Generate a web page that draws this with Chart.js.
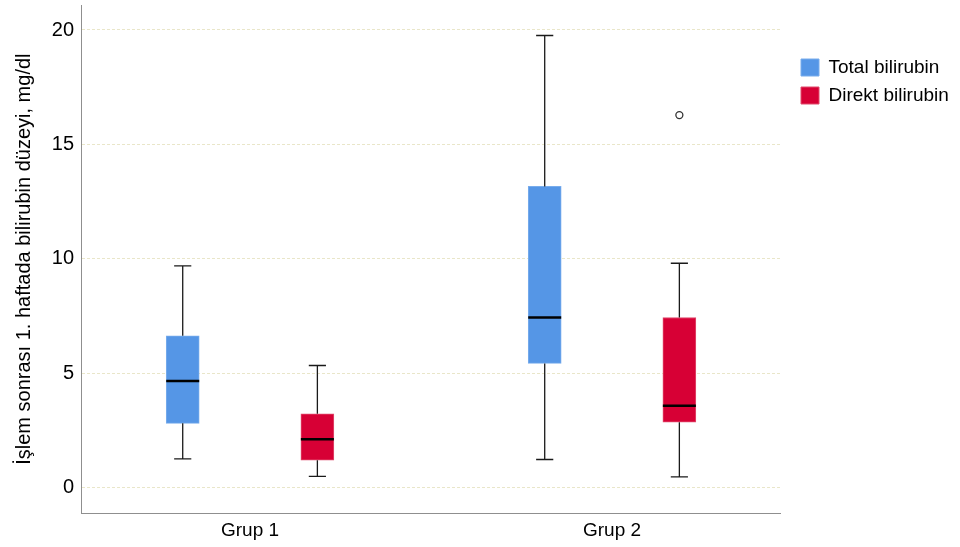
<!DOCTYPE html>
<html>
<head>
<meta charset="utf-8">
<script src="https://cdn.jsdelivr.net/npm/chart.js@4.4.1/dist/chart.umd.min.js"></script>
<style>
  html, body { margin: 0; padding: 0; background: #fff; }
  #wrap { width: 960px; height: 547px; position: relative; }
</style>
</head>
<body>
<div id="wrap"><canvas id="myChart"></canvas></div>
<script>
// Gruplar
const categories = ["Grup 1", "Grup 2"];

// Total bilirubin (min, Q1, medyan, Q3, max)
const totalMin = [1.25, 1.22];
const totalQ1 = [2.80, 5.42];
const totalMedian = [4.65, 7.43];
const totalQ3 = [6.63, 13.16];
const totalMax = [9.69, 19.76];

// Direkt bilirubin
const directMin = [0.48, 0.46];
const directQ1 = [1.19, 2.85];
const directMedian = [2.10, 3.57];
const directQ3 = [3.22, 7.43];
const directMax = [5.33, 9.80];
const directOutliers = [[], [16.28]];

// Y ekseni etiketleri
const yTicks = [0, 5, 10, 15, 20];

Chart.defaults.font.family = '"Liberation Sans", Arial, sans-serif';

// kutunun grup merkezine göre kayması (x birimi)
const boxOffset = 0.186;

function boxData(q1, q3, shift) {
  return categories.map((c, i) => ({ x: i + shift, y: [q1[i], q3[i]] }));
}

const outlierPoints = [];
directOutliers.forEach((list, i) => {
  list.forEach((v) => outlierPoints.push({ x: i + boxOffset, y: v }));
});

// bıyıklar ve medyan çizgisi
const boxWhiskers = {
  id: "boxWhiskers",
  afterDatasetsDraw(chart) {
    const ctx = chart.ctx;
    const yScale = chart.scales.y;
    chart.data.datasets.forEach((ds, di) => {
      if (!ds.whisker) return;
      const meta = chart.getDatasetMeta(di);
      meta.data.forEach((bar, i) => {
        const x = bar.x;
        const half = bar.width / 2;
        const cap = bar.width * 0.26;
        const yMin = yScale.getPixelForValue(ds.whisker.min[i]);
        const yMax = yScale.getPixelForValue(ds.whisker.max[i]);
        const yMed = yScale.getPixelForValue(ds.whisker.median[i]);
        const yQ1 = yScale.getPixelForValue(ds.data[i].y[0]);
        const yQ3 = yScale.getPixelForValue(ds.data[i].y[1]);
        ctx.save();
        ctx.strokeStyle = "#1a1a1a";
        ctx.lineWidth = 1.3;
        ctx.beginPath();
        ctx.moveTo(x, yQ3);
        ctx.lineTo(x, yMax);
        ctx.moveTo(x - cap, yMax);
        ctx.lineTo(x + cap, yMax);
        ctx.moveTo(x, yQ1);
        ctx.lineTo(x, yMin);
        ctx.moveTo(x - cap, yMin);
        ctx.lineTo(x + cap, yMin);
        ctx.stroke();
        ctx.strokeStyle = "#000";
        ctx.lineWidth = 2.5;
        ctx.beginPath();
        ctx.moveTo(x - half, yMed);
        ctx.lineTo(x + half, yMed);
        ctx.stroke();
        ctx.restore();
      });
    });
  },
};

// lejantı grafiğin sağına taşı
const legendPlace = {
  id: "legendPlace",
  afterLayout(chart) {
    const lg = chart.legend;
    const w = lg.width;
    const h = lg.height;
    lg.left = chart.chartArea.right + 12;
    lg.top = 49;
    lg.right = lg.left + w;
    lg.bottom = lg.top + h;
  },
};

const ctx = document.getElementById("myChart").getContext("2d");

new Chart(ctx, {
  type: "bar",
  data: {
    datasets: [
      {
        label: "Total bilirubin",
        data: boxData(totalQ1, totalQ3, -boxOffset),
        backgroundColor: "#5596E6",
        borderColor: "#78acec",
        borderWidth: 1,
        borderSkipped: false,
        barThickness: 33,
        grouped: false,
        whisker: { min: totalMin, median: totalMedian, max: totalMax },
      },
      {
        label: "Direkt bilirubin",
        data: boxData(directQ1, directQ3, boxOffset),
        backgroundColor: "#D70035",
        borderColor: "#e04a6c",
        borderWidth: 1,
        borderSkipped: false,
        barThickness: 33,
        grouped: false,
        whisker: { min: directMin, median: directMedian, max: directMax },
      },
      {
        type: "scatter",
        label: "outlier",
        data: outlierPoints,
        pointRadius: 3.5,
        pointBackgroundColor: "#fff",
        pointBorderColor: "#333",
        pointBorderWidth: 1.3,
      },
    ],
  },
  options: {
    responsive: true,
    maintainAspectRatio: false,
    animation: false,
    layout: { padding: { top: 5, right: 180, bottom: 0, left: 0 } },
    scales: {
      x: {
        type: "linear",
        min: -0.467,
        max: 1.464,
        offset: false,
        afterBuildTicks: (s) => {
          s.ticks = categories.map((c, i) => ({ value: i }));
        },
        afterFit: (s) => {
          s.height = 34;
          s.paddingLeft = 0;
          s.paddingRight = 0;
        },
        grid: { display: false, drawTicks: false },
        border: { display: true, color: "#8f8f8f", width: 1 },
        ticks: {
          padding: 6,
          color: "#000",
          font: { size: 19 },
          autoSkip: false,
          maxRotation: 0,
          callback: (v) => categories[Math.round(v)],
        },
      },
      y: {
        type: "linear",
        min: -1.12,
        max: 21.08,
        afterBuildTicks: (s) => {
          s.ticks = yTicks.map((v) => ({ value: v }));
        },
        afterFit: (s) => {
          s.width = 81;
          s.paddingTop = 0;
          s.paddingBottom = 0;
        },
        grid: { color: "#E9E6C9", lineWidth: 1, drawTicks: false },
        border: { display: true, color: "#8f8f8f", width: 1, dash: [3, 2] },
        ticks: { padding: 7, color: "#000", font: { size: 20 } },
        title: {
          display: true,
          text: "İşlem sonrası 1. haftada bilirubin düzeyi, mg/dl",
          color: "#000",
          font: { size: 20 },
          padding: { top: 12, bottom: 0 },
        },
      },
    },
    plugins: {
      legend: {
        position: "chartArea",
        align: "start",
        labels: {
          boxWidth: 18,
          boxHeight: 17,
          padding: 9,
          color: "#000",
          font: { size: 19 },
          filter: (item) => item.datasetIndex < 2,
        },
      },
      tooltip: { enabled: false },
    },
  },
  plugins: [boxWhiskers, legendPlace],
});
</script>
</body>
</html>
